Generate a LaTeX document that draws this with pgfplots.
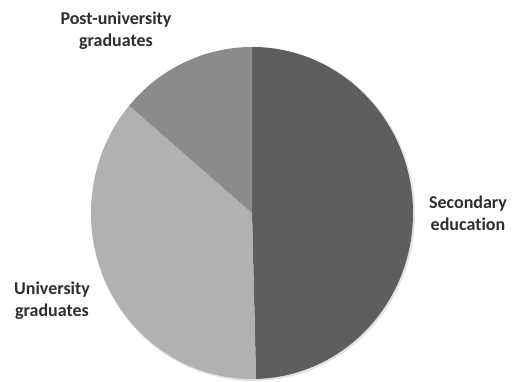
\documentclass[border=0pt]{standalone}
\usepackage{pgfplots}
\pgfplotsset{compat=1.18}
\usepackage{pgfplotstable}
\usepackage{fontspec}
\setmainfont{Carlito}[Ligatures=NoCommon]
\definecolor{csec}{HTML}{5E5E5E}
\definecolor{cuni}{HTML}{B1B1B1}
\definecolor{cpost}{HTML}{8B8B8B}
\definecolor{cshadow}{HTML}{E2E2E2}
\pgfplotstableread{
share
49.6
36.6
13.8
}\piedata
\begin{document}
\begin{tikzpicture}
\begin{axis}[width=519bp,height=382bp,scale only axis,
  xmin=0,xmax=519,ymin=0,ymax=382,hide axis,clip=false]
\path (axis cs:0,0) rectangle (axis cs:519,382);
\pgfplotstablegetelem{0}{share}\of\piedata \let\vA\pgfplotsretval
\pgfplotstablegetelem{1}{share}\of\piedata \let\vB\pgfplotsretval
\pgfplotstablegetelem{2}{share}\of\piedata \let\vC\pgfplotsretval
\pgfmathsetmacro{\aO}{90}
\pgfmathsetmacro{\aA}{90-3.6*\vA}
\pgfmathsetmacro{\aB}{\aA-3.6*\vB}
\pgfmathsetmacro{\aC}{\aB-3.6*\vC}
\def\cx{252}\def\cy{169}\def\rx{161}\def\ry{166}
% soft shadow
\fill[cshadow] (axis cs:\cx+1,\cy-1) ellipse[x radius=\rx bp+1bp,y radius=\ry bp+1bp];
\fill[csec] (axis cs:\cx,\cy) -- (axis cs:{\cx+\rx*cos(\aO)},{\cy+\ry*sin(\aO)})
  arc[start angle=\aO,end angle=\aA,x radius=\rx bp,y radius=\ry bp] -- cycle;
\fill[cuni] (axis cs:\cx,\cy) -- (axis cs:{\cx+\rx*cos(\aA)},{\cy+\ry*sin(\aA)})
  arc[start angle=\aA,end angle=\aB,x radius=\rx bp,y radius=\ry bp] -- cycle;
\fill[cpost] (axis cs:\cx,\cy) -- (axis cs:{\cx+\rx*cos(\aB)},{\cy+\ry*sin(\aB)})
  arc[start angle=\aB,end angle=\aC,x radius=\rx bp,y radius=\ry bp] -- cycle;
\tikzset{lbl/.style={align=center,font=\fontsize{18bp}{22bp}\selectfont\bfseries,text=black!82}}
\node[lbl] at (axis cs:116,351) {Post-university\\graduates};
\node[lbl] at (axis cs:468,169) {Secondary\\education};
\node[lbl] at (axis cs:52,81) {University\\graduates};
\end{axis}
\end{tikzpicture}
\end{document}
